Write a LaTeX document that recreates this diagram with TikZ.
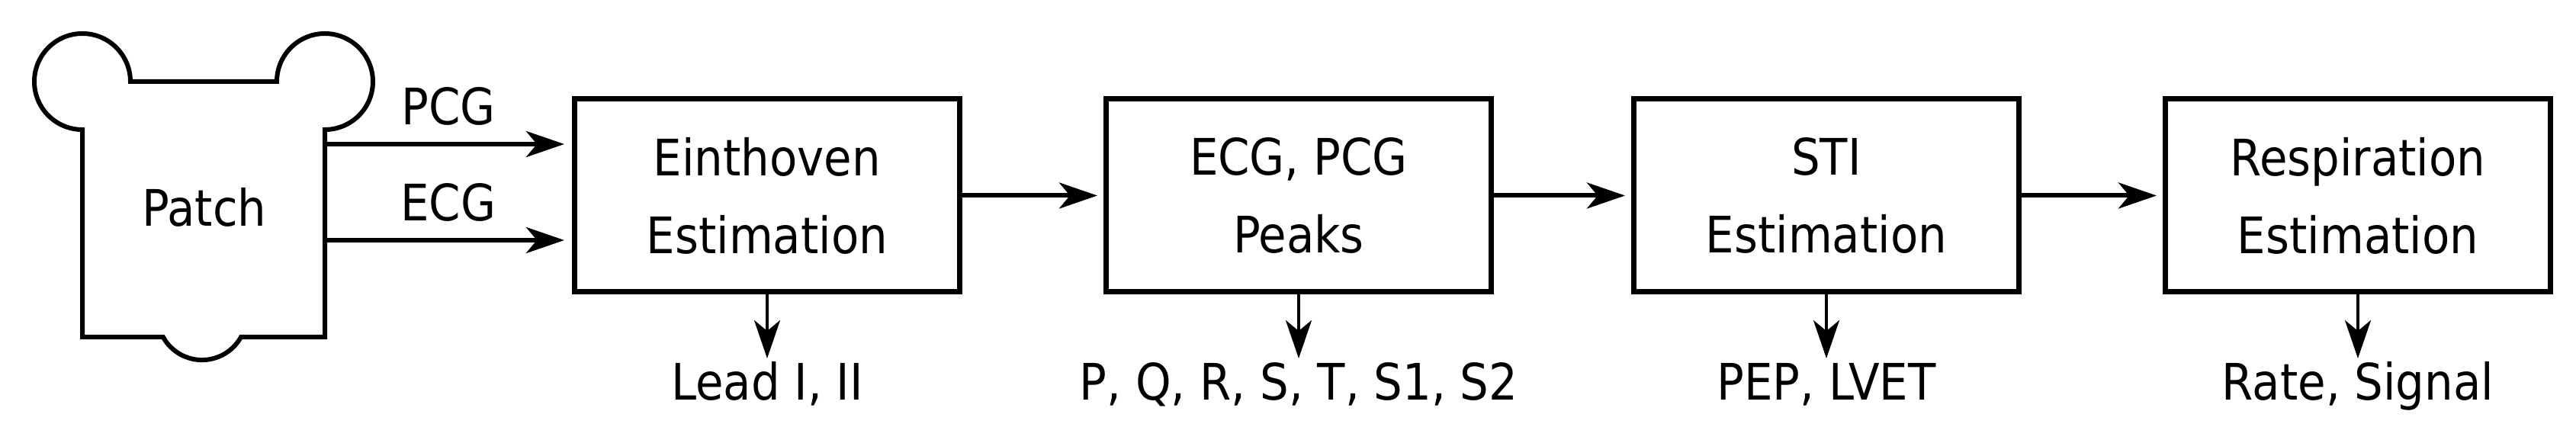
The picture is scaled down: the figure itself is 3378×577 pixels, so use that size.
\documentclass[tikz,border=0pt]{standalone}
\usepackage{fontspec}
\setmainfont{DejaVu Sans Condensed}
\usetikzlibrary{arrows.meta}
\begin{document}
\begin{tikzpicture}[x=1pt,y=1pt,
  txt/.style={font=\fontsize{66}{102}\selectfont,align=center,inner sep=0pt},
  blk/.style={draw,line width=7pt,minimum width=505pt,minimum height=253pt,txt},
  arr/.style={line width=6pt,-{Stealth[length=50pt,width=34pt,inset=14pt]},shorten >=10pt},
  darr/.style={line width=4.5pt,-{Stealth[length=50pt,width=34pt,inset=14pt]}}]
\useasboundingbox (0,0) rectangle (3378,577);
\draw[line width=6pt,line join=miter] (108,407) arc[start angle=-90,end angle=-360,radius=63]
  -- (363,470) arc[start angle=180,end angle=-90,radius=63]
  -- (426,135) -- (316,135) arc[start angle=-29,end angle=-151,radius=58.4]
  -- (108,135) -- cycle;
\node[txt] (patch) at (268,305) {Patch};
\coordinate (p1) at (426,388);
\coordinate (p2) at (426,262);
\node[blk,anchor=west] (b1) at (750,320.5) {Einthoven\\Estimation};
\node[blk,anchor=west] (b2) at (1447,320.5) {ECG, PCG\\Peaks};
\node[blk,anchor=west] (b3) at (2139,320.5) {STI\\Estimation};
\node[blk,anchor=west] (b4) at (2836,320.5) {Respiration\\Estimation};
\draw[arr] (p1) -- (p1 -| b1.west) node[midway,above=22pt,txt] (lpcg) {PCG};
\draw[arr] (p2) -- (p2 -| b1.west) node[midway,above=22pt,txt] (lecg) {ECG};
\draw[arr,shorten >=8pt] (b1) -- (b2);
\draw[arr,shorten >=8pt] (b2) -- (b3);
\draw[arr,shorten >=8pt] (b3) -- (b4);
\foreach \b/\t in {b1/{Lead I, II},b2/{P, Q, R, S, T, S1, S2},b3/{PEP, LVET},b4/{Rate, Signal}}{
  \node[txt,anchor=base] (l\b) at (\b.south |- 0,52) {\t};
  \draw[darr] (\b.south) -- (\b.south |- 0,107);
}
\end{tikzpicture}
\end{document}
